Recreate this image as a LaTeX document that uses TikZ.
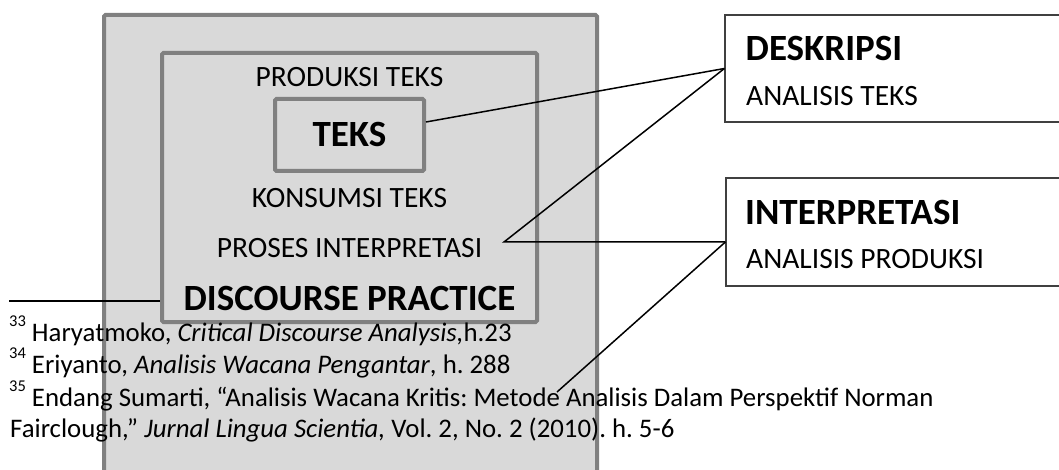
\documentclass[tikz,border=0pt]{standalone}
\usepackage{fontspec}
\setmainfont{Carlito}
\begin{document}
\frenchspacing
\begin{tikzpicture}[x=1pt,y=-1pt,
  graybox/.style={draw=gray50,line width=4pt,fill=boxfill,rounded corners=1.5pt,inner sep=0pt},
  whitebox/.style={draw=darkline,line width=1.2pt,fill=white,inner sep=0pt},
  normtext/.style={inner sep=0pt,font=\fontsize{29.5}{31}\selectfont},
  boldtext/.style={inner sep=0pt,font=\fontsize{37}{40}\selectfont\bfseries},
  foot/.style={inner sep=0pt,anchor=base west,font=\fontsize{26.8}{28}\selectfont},
  conn/.style={draw=black,line width=1.5pt}]
\definecolor{gray50}{HTML}{808080}
\definecolor{boxfill}{HTML}{D9D9D9}
\definecolor{darkline}{HTML}{404040}
\useasboundingbox (0,0) rectangle (1059,470);
\clip (0,0) rectangle (1059,470);
% outer box
\node[graybox,minimum width=493pt,minimum height=525pt] (outer) at (350.5,277.5) {};
% footnote rule
\coordinate (ruleL) at (9,301);
\coordinate (ruleR) at (162,301);
\draw[line width=1.5pt] (ruleL) -- (ruleR);
% inner box
\node[graybox,minimum width=375pt,minimum height=269pt] (inner) at (349.5,187.5) {};
% teks box
\node[graybox,minimum width=149pt,minimum height=72pt] (teksbox) at (349.5,135) {};
% texts inside
\node[normtext,anchor=base] (produksi) at (349.5,87) {PRODUKSI TEKS};
\node[boldtext,anchor=base] (teks) at (349.5,147) {TEKS};
\node[normtext,anchor=base] (konsumsi) at (349.5,208) {KONSUMSI TEKS};
\node[normtext,anchor=base] (proses) at (349.5,257) {PROSES INTERPRETASI};
\node[boldtext,anchor=base] (dp) at (349.5,310) {DISCOURSE PRACTICE};
% right boxes
\node[whitebox,minimum width=345pt,minimum height=107pt] (desk) at (897.5,68.5) {};
\node[boldtext,anchor=base west] (deskt) at (745.5,61) {DESKRIPSI};
\node[normtext,anchor=base west] (deska) at (746,106) {ANALISIS TEKS};
\node[whitebox,minimum width=344pt,minimum height=108pt] (interp) at (898,232) {};
\node[boldtext,anchor=base west] (interpt) at (745,225) {INTERPRETASI};
\node[normtext,anchor=base west] (interpa) at (746,269) {ANALISIS PRODUKSI};
% footnotes
\newcommand{\fnmark}[1]{\raisebox{14.5pt}{\fontsize{16.5}{17}\selectfont #1}}
\node[foot] (fn1) at (9,341) {\fnmark{33} Haryatmoko, \textit{Critical Discourse Analysis,}h.23};
\node[foot] (fn2) at (9,373) {\fnmark{34} Eriyanto, \textit{Analisis Wacana Pengantar}, h. 288};
\node[foot] (fn3) at (9,406) {\fnmark{35} Endang Sumarti, “Analisis Wacana Kritis: Metode Analisis Dalam Perspektif Norman};
\node[foot] (fn4) at (10,437) {Fairclough,” \textit{Jurnal Lingua Scientia,} Vol. 2, No. 2 (2010). h. 5-6};
% connectors
\coordinate (pj) at (504,242);
\coordinate (freeend) at (557,392);
\draw[conn] ([yshift=13pt]teksbox.east) -- (desk.west);
\draw[conn] (desk.west) -- (pj) -- ([yshift=-10pt]interp.west);
\draw[conn] ([yshift=-10pt]interp.west) -- (freeend);
\end{tikzpicture}
\end{document}
